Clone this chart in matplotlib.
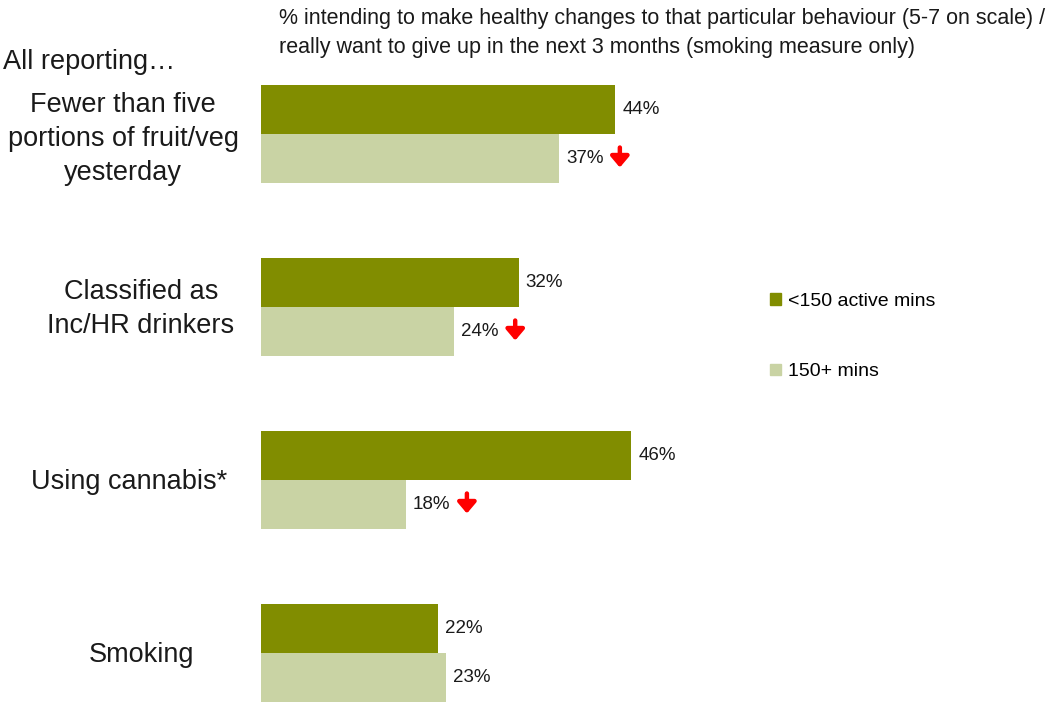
import matplotlib.pyplot as plt
from matplotlib.patches import Patch
from matplotlib.transforms import offset_copy

plt.rcParams['font.family'] = ['Liberation Sans', 'DejaVu Sans']

# data
categories = ['Fewer than five\nportions of fruit/veg\nyesterday',
              'Classified as\nInc/HR drinkers',
              'Using cannabis*',
              'Smoking']
low_active = [44, 32, 46, 22]      # <150 active mins
high_active = [37, 24, 18, 23]     # 150+ mins
sig_lower = [True, True, True, False]  # significant drop for 150+ group
series_names = ['<150 active mins', '150+ mins']

dark = '#818D00'
light = '#C9D3A4'

W, H = 1058, 702
fig = plt.figure(figsize=(W / 100, H / 100), dpi=100)

# axes spans full height, bars start at x=261px, 8.05 px per percent
x0 = 261
xmax = 90
ax = fig.add_axes([x0 / W, 0, xmax * 8.05 / W, 1])
ax.set_xlim(0, xmax)
# group spacing 173px, first group boundary at y=134px
ax.set_ylim((H - 134) / 173, -134 / 173)
ax.axis('off')

bh = 49 / 173
for i in range(len(categories)):
    ax.barh(i - bh / 2, low_active[i], height=bh, color=dark)
    ax.barh(i + bh / 2, high_active[i], height=bh, color=light)

lbl_tr = offset_copy(ax.transData, fig=fig, x=7, y=0, units='dots')
arr_top = offset_copy(ax.transData, fig=fig, x=61, y=11, units='dots')
arr_bot = offset_copy(ax.transData, fig=fig, x=61, y=-9, units='dots')
for i in range(len(categories)):
    ax.text(low_active[i], i - bh / 2, f'{low_active[i]}%', transform=lbl_tr,
            va='center', ha='left', fontsize=13.5, color='#1a1a1a')
    ax.text(high_active[i], i + bh / 2, f'{high_active[i]}%', transform=lbl_tr,
            va='center', ha='left', fontsize=13.5, color='#1a1a1a')
    if sig_lower[i]:
        yc = i + bh / 2
        ax.annotate('', xy=(high_active[i], yc), xycoords=arr_bot,
                    xytext=(high_active[i], yc), textcoords=arr_top,
                    arrowprops=dict(arrowstyle='-|>,head_width=0.55,head_length=0.65',
                                    color='#FF0000', lw=3.2, mutation_scale=10,
                                    shrinkA=0, shrinkB=0))

# category labels to the left of the bars
label_x = [123, 141, 129, 141]
label_dy = [3, 0, 0, 0]
for i, cat in enumerate(categories):
    y_fig = 1 - (136 + 173 * i + label_dy[i]) / H
    fig.text(label_x[i] / W, y_fig, cat, ha='center', va='center',
             fontsize=19.5, linespacing=1.4, color='#1a1a1a')

fig.text(3 / W, 1 - 62 / H, 'All reporting…', ha='left', va='center',
         fontsize=19.5, color='#1a1a1a')
fig.text(279 / W, 1 - 33 / H,
         '% intending to make healthy changes to that particular behaviour (5-7 on scale) /\n'
         'really want to give up in the next 3 months (smoking measure only)',
         ha='left', va='center', fontsize=15.5, linespacing=1.45, color='#1a1a1a')

handles = [Patch(color=dark), Patch(color=light)]
ax.legend(handles, series_names, loc='upper left',
          bbox_to_anchor=(770 / W, 1 - 293 / H), bbox_transform=fig.transFigure,
          frameon=False, fontsize=14, borderpad=0, borderaxespad=0,
          handlelength=0.55, handleheight=0.55, handletextpad=0.4,
          labelspacing=2.75)

fig.savefig('out.png', dpi=100)
